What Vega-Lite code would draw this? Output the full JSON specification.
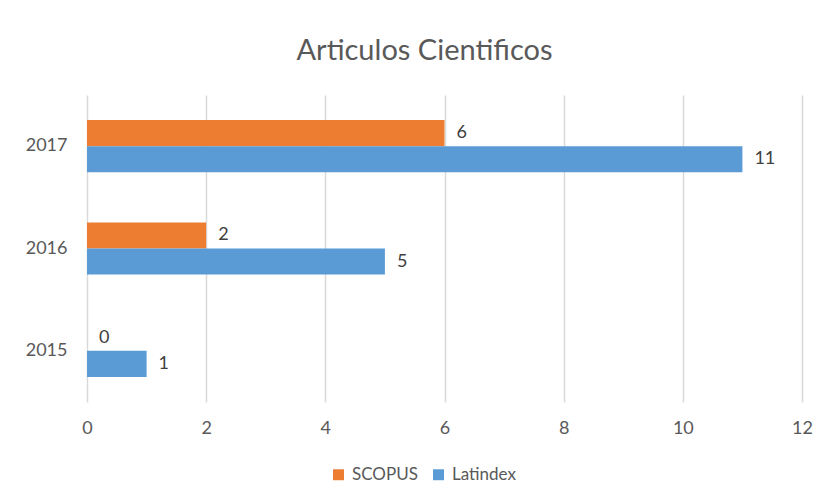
{
  "$schema": "https://vega.github.io/schema/vega-lite/v6.json",
  "autosize": {"type": "none"},
  "padding": {"left": 87, "top": 95, "right": 21, "bottom": 97},
  "width": 715,
  "height": 307,
  "background": "white",
  "title": {
    "text": "Articulos Cientificos",
    "font": "Lato",
    "fontSize": 29,
    "fontWeight": "normal",
    "color": "#595959",
    "anchor": "middle",
    "frame": "group",
    "dx": -20,
    "baseline": "alphabetic",
    "offset": 6
  },
  "config": {
    "view": {"stroke": null},
    "font": "Lato",
    "text": {"font": "Lato"}
  },
  "data": {
    "values": [
      {"year": "2017", "series": "SCOPUS", "value": 6},
      {"year": "2017", "series": "Latindex", "value": 11},
      {"year": "2016", "series": "SCOPUS", "value": 2},
      {"year": "2016", "series": "Latindex", "value": 5},
      {"year": "2015", "series": "SCOPUS", "value": 0},
      {"year": "2015", "series": "Latindex", "value": 1}
    ]
  },
  "encoding": {
    "y": {
      "field": "year",
      "type": "nominal",
      "sort": ["2017", "2016", "2015"],
      "scale": {"paddingInner": 0.49, "paddingOuter": 0.245},
      "axis": {
        "title": null,
        "domain": false,
        "ticks": false,
        "labelPadding": 20,
        "labelFont": "Lato",
        "labelFontSize": 18,
        "labelColor": "#595959"
      }
    },
    "yOffset": {
      "field": "series",
      "type": "nominal",
      "sort": ["SCOPUS", "Latindex"],
      "scale": {"paddingInner": 0, "paddingOuter": 0}
    },
    "x": {
      "field": "value",
      "type": "quantitative",
      "scale": {"domain": [0, 12], "nice": false},
      "axis": {
        "title": null,
        "values": [0, 2, 4, 6, 8, 10, 12],
        "domain": false,
        "ticks": false,
        "grid": true,
        "gridColor": "#D9D9D9",
        "gridWidth": 1.5,
        "labelFlush": false,
        "labelPadding": 17,
        "labelFont": "Lato",
        "labelFontSize": 18,
        "labelColor": "#595959"
      }
    }
  },
  "layer": [
    {
      "mark": {"type": "bar"},
      "encoding": {
        "color": {
          "field": "series",
          "type": "nominal",
          "sort": ["SCOPUS", "Latindex"],
          "scale": {"domain": ["SCOPUS", "Latindex"], "range": ["#ED7D31", "#5B9BD5"]},
          "legend": {
            "title": null,
            "orient": "none",
            "direction": "horizontal",
            "legendX": 243,
            "legendY": 371,
            "symbolType": "square",
            "symbolSize": 120,
            "symbolStrokeWidth": 0,
            "labelFont": "Lato",
            "labelFontSize": 17,
            "labelColor": "#595959",
            "columnPadding": 12,
            "labelOffset": 5
          }
        }
      }
    },
    {
      "mark": {"type": "text", "align": "left", "baseline": "middle", "dx": 12, "font": "Lato", "fontSize": 18, "color": "#404040"},
      "encoding": {
        "text": {"field": "value", "type": "quantitative"}
      }
    }
  ]
}
